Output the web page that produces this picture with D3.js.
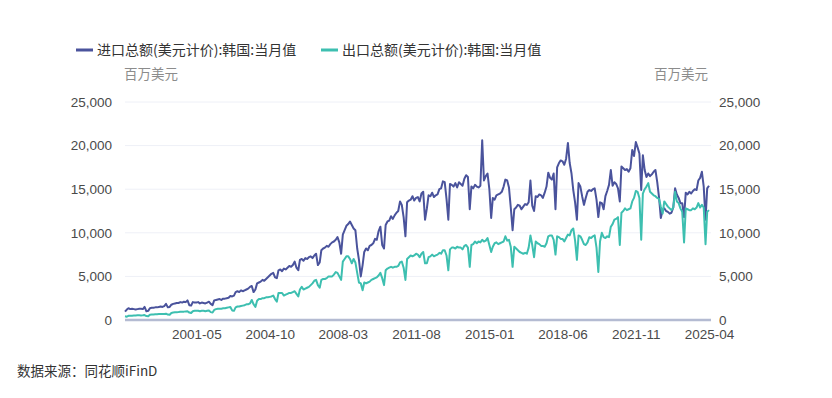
<!DOCTYPE html>
<html>
<head>
<meta charset="utf-8">
<script src="https://cdn.jsdelivr.net/npm/d3@7/dist/d3.min.js"></script>
<style>
  body { margin: 0; background: #fff; }
  svg { display: block; font-family: "Noto Sans CJK SC", "Noto Sans", sans-serif; }
  .grid line { stroke: #eef0f7; }
  .tick text { fill: #4a4a4a; font-size: 13.5px; }
  .unit { fill: #8c8c8c; font-size: 13.5px; }
  .legend text { fill: #333; font-size: 14px; }
  .source { fill: #333; font-size: 13.5px; }
</style>
</head>
<body>
<svg id="chart" width="832" height="398"></svg>
<script>
// 月度数据，1998-01 起，单位：百万美元
const firstMonth = '1998-01';
const seriesNames = ['进口总额(美元计价):韩国:当月值', '出口总额(美元计价):韩国:当月值'];
const unitLabel = '百万美元';
const sourceLabel = '数据来源：同花顺iFinD';

const importVals = [
  950, 1200, 1350, 1250, 1300, 1250, 1200, 1250, 1300, 1300, 1250, 1500,          // 1998
  1000, 1050, 1350, 1400, 1400, 1450, 1450, 1500, 1550, 1500, 1600, 1850,         // 1999
  1450, 1500, 1750, 1850, 1900, 1950, 1950, 2050, 2000, 2100, 2050, 2250,         // 2000
  1700, 1650, 2050, 2000, 2000, 2050, 1900, 2000, 1950, 1900, 2000, 2100,         // 2001
  1850, 1700, 2250, 2300, 2350, 2400, 2300, 2450, 2450, 2500, 2550, 2750,         // 2002
  2700, 2800, 3200, 3300, 3200, 3400, 3300, 3400, 3500, 3600, 3800, 3900,         // 2003
  3200, 3500, 4200, 4300, 4400, 4600, 4500, 4700, 4900, 5100, 5300, 5400,         // 2004
  4900, 4800, 5700, 5800, 5600, 5900, 5800, 6000, 6200, 6100, 6300, 6700,         // 2005
  6000, 5700, 6900, 7000, 6800, 7100, 7000, 7200, 7300, 7100, 7400, 7600,         // 2006
  6300, 6600, 8000, 8200, 8300, 8500, 8400, 8700, 8900, 9000, 9200, 9500,         // 2007
  8900, 7600, 9800, 10300, 10800, 11000, 11300, 10900, 10500, 10300, 8200, 6900,  // 2008
  5000, 6300, 7800, 8200, 8000, 8500, 8600, 8800, 9300, 9200, 10200, 10700,       // 2009
  8600, 8200, 10900, 11300, 11400, 11900, 11600, 12000, 12300, 12500, 13600, 13200, // 2010
  11800, 9600, 13500, 13700, 13800, 14200, 13700, 14000, 14100, 13600, 14500, 14700, // 2011
  11500, 12800, 14300, 14200, 14600, 14100, 14300, 14400, 15000, 15100, 15900, 15800, // 2012
  13900, 11500, 15600, 15500, 15300, 15700, 15200, 15800, 15600, 15400, 16200, 16600, // 2013
  16400, 12700, 15300, 15100, 15500, 15300, 15200, 15400, 20600, 16000, 16500, 16800, // 2014
  15000, 11700, 14000, 13800, 14300, 14400, 14500, 14700, 15300, 16100, 16000, 15200, // 2015
  12900, 10300, 12700, 12900, 13200, 13100, 12700, 13000, 13300, 13200, 13500, 16000, // 2016
  13100, 12500, 14200, 14100, 14400, 14300, 14000, 14600, 15300, 16900, 16300, 16100, // 2017
  16800, 12700, 17500, 18000, 18300, 18200, 17800, 18500, 20300, 18000, 16800, 14900, // 2018
  13500, 11500, 15700, 15300, 14200, 13200, 14000, 14700, 14900, 14800, 15000, 15100, // 2019
  13800, 11800, 13500, 13400, 12700, 14200, 14800, 15500, 17200, 15400, 15800, 15600, // 2020
  15100, 13600, 17600, 17400, 17200, 17300, 17000, 17400, 19500, 18800, 20400, 19800, // 2021
  19100, 14900, 18900, 17200, 16400, 16800, 16500, 16700, 17000, 17200, 15800, 14100, // 2022
  11700, 12600, 12800, 12500, 12400, 12200, 12300, 12900, 15100, 14400, 14000, 13400, // 2023
  13400, 11800, 14600, 14400, 14700, 14500, 14800, 15000, 14900, 16000, 16300, 17000, // 2024
  15300, 11500, 15100, 15400                                                          // 2025
];

const exportVals = [
  420, 380, 480, 500, 500, 520, 530, 540, 540, 530, 540, 560,                  // 1998
  450, 420, 600, 620, 630, 650, 660, 680, 700, 680, 700, 720,                  // 1999
  620, 600, 800, 850, 880, 900, 920, 950, 950, 960, 980, 1000,                 // 2000
  850, 800, 1000, 1050, 1050, 1050, 1000, 1050, 1050, 1000, 1050, 1100,        // 2001
  900, 850, 1150, 1250, 1300, 1300, 1300, 1350, 1350, 1400, 1450, 1500,        // 2002
  1100, 1050, 1450, 1550, 1550, 1600, 1650, 1700, 1800, 1800, 1900, 2300,      // 2003
  1800, 1500, 2200, 2400, 2400, 2500, 2500, 2600, 2600, 2650, 2700, 2800,      // 2004
  2400, 2100, 3100, 3100, 3100, 2800, 2900, 3000, 3100, 3100, 3200, 3300,      // 2005
  3000, 2700, 3500, 3800, 3500, 3600, 3700, 3800, 4000, 4200, 4500, 4600,      // 2006
  4000, 3700, 4600, 4700, 4700, 4800, 5000, 5000, 5000, 5200, 5500, 5400,      // 2007
  5000, 4600, 6700, 7000, 7300, 7300, 7000, 6500, 7000, 6600, 5400, 4300,      // 2008
  4200, 3400, 4300, 4200, 4300, 4400, 4600, 4700, 4800, 4900, 5100, 5400,      // 2009
  4800, 4000, 5700, 5900, 6000, 6100, 6000, 6100, 6100, 6200, 6600, 6700,      // 2010
  6000, 4600, 7000, 7200, 7400, 7300, 7400, 7600, 7500, 7200, 7600, 7800,      // 2011
  6500, 6500, 7200, 7300, 7500, 7300, 7400, 7500, 7700, 7600, 8000, 8000,      // 2012
  7400, 5700, 8100, 8300, 8300, 8200, 8400, 8300, 8300, 8100, 8500, 8600,      // 2013
  8300, 6100, 8600, 8700, 9000, 8800, 9000, 8900, 9200, 9000, 9100, 9400,      // 2014
  8600, 7800, 8400, 8800, 8900, 8700, 8800, 8900, 9000, 9600, 9100, 9200,      // 2015
  8400, 6100, 8400, 8200, 8000, 7800, 7700, 7600, 7700, 7600, 8300, 9700,      // 2016
  8600, 7200, 9000, 8800, 8700, 8500, 8500, 8400, 8800, 9600, 9700, 9700,      // 2017
  9200, 7500, 9600, 9500, 9300, 9300, 9000, 9400, 9800, 9700, 10300, 10500,    // 2018
  9100, 6900, 9700, 9600, 9200, 8700, 8600, 8900, 9500, 9400, 9600, 9700,      // 2019
  8300, 5500, 9000, 10000, 9500, 9400, 9600, 9500, 10700, 11000, 11500, 11600, // 2020
  11800, 8600, 12300, 12500, 12800, 12600, 12700, 12800, 13600, 14000, 14800, 14700, // 2021
  14000, 9200, 14500, 15000, 15300, 15700, 14700, 14500, 14300, 14200, 14000, 13900, // 2022
  13000, 12200, 13600, 13300, 13000, 12800, 12600, 12900, 14700, 13600, 13400, 12800, // 2023
  12400, 8900, 12800, 12700, 12600, 12600, 12800, 12700, 12900, 13400, 12900, 13200, // 2024
  12900, 8700, 12400, 12600                                                          // 2025
];

const xTickLabels = ['2001-05', '2004-10', '2008-03', '2011-08', '2015-01', '2018-06', '2021-11', '2025-04'];
const yTicks = [0, 5000, 10000, 15000, 20000, 25000];
const colors = ['#4a539c', '#3dbfb0'];

const parseMonth = d3.timeParse('%Y-%m');
const fmtMonth = d3.timeFormat('%Y-%m');
const start = parseMonth(firstMonth);
const months = importVals.map((_, i) => d3.timeMonth.offset(start, i));

const svg = d3.select('#chart');
const plotL = 125, plotR = 709, plotT = 102, plotB = 320;

const x = d3.scaleTime()
  .domain([months[0], months[months.length - 1]])
  .range([plotL, plotR]);
const y = d3.scaleLinear().domain([0, 25000]).range([plotB, plotT]);

// 网格线
svg.append('g').attr('class', 'grid')
  .selectAll('line').data(yTicks.slice(1)).join('line')
  .attr('x1', plotL).attr('x2', plotR + 2)
  .attr('y1', d => y(d)).attr('y2', d => y(d));

// 左右Y轴
const yLeft = d3.axisLeft(y).tickValues(yTicks).tickSize(0).tickPadding(13).tickFormat(d3.format(','));
svg.append('g').attr('transform', `translate(${plotL},0)`).call(yLeft)
  .call(g => g.select('.domain').remove());
const yRight = d3.axisRight(y).tickValues(yTicks).tickSize(0).tickPadding(10).tickFormat(d3.format(','));
svg.append('g').attr('transform', `translate(${plotR},0)`).call(yRight)
  .call(g => g.select('.domain').remove());

// X轴
const xAxis = d3.axisBottom(x)
  .tickValues(xTickLabels.map(parseMonth))
  .tickSize(0).tickPadding(9)
  .tickFormat(fmtMonth);
svg.append('g').attr('transform', `translate(0,${plotB})`).call(xAxis)
  .call(g => g.select('.domain').attr('stroke', '#b4bbd2').attr('stroke-width', 2.5)
    .attr('d', `M${plotL},0H${plotR + 2}`));

// 折线
const line = d3.line().x((d, i) => x(months[i])).y(d => y(d));
[importVals, exportVals].forEach((vals, k) => {
  svg.append('path')
    .datum(vals)
    .attr('fill', 'none')
    .attr('stroke', colors[k])
    .attr('stroke-width', 2)
    .attr('stroke-linejoin', 'round')
    .attr('d', line);
});

// 单位
svg.append('text').attr('class', 'unit').attr('x', 124).attr('y', 79).text(unitLabel);
svg.append('text').attr('class', 'unit').attr('x', 708).attr('y', 79)
  .attr('text-anchor', 'end').text(unitLabel);

// 图例
const legend = svg.append('g').attr('class', 'legend');
const legendX = [76, 321];
seriesNames.forEach((name, k) => {
  legend.append('line')
    .attr('x1', legendX[k]).attr('x2', legendX[k] + 17)
    .attr('y1', 50).attr('y2', 50)
    .attr('stroke', colors[k]).attr('stroke-width', 3);
  legend.append('text')
    .attr('x', legendX[k] + 21).attr('y', 55)
    .text(name);
});

// 数据来源
svg.append('text').attr('class', 'source').attr('x', 17).attr('y', 376).text(sourceLabel);
</script>
</body>
</html>
